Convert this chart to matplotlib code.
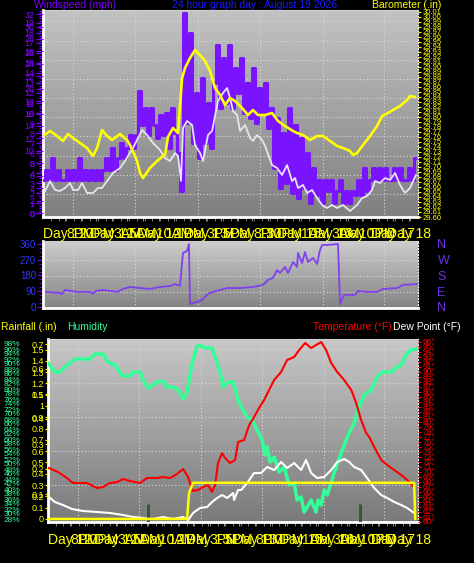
import numpy as np
import matplotlib.pyplot as plt

W, H = 474, 563

# ---- top panel: wind (mph) and barometer (in), time in hours ----
wind = [3.3, 4.3, 3.3, 5.5, 3.3, 4.3, 3.3, 3.3, 4.3, 3.3, 4.3, 3.3, 5.5, 3.3, 4.3, 3.3, 4.3, 3.3, 4.3, 3.3,
        4.3, 5.5, 4.3, 6.5, 4.3, 5.5, 7.0, 5.5, 6.5,
        7.8, 6.5, 7.8,
        12.2, 8.8, 10.5, 7.8, 10.5, 8.8, 7.5, 9.8, 7.8,
        10.0, 6.5, 10.5, 8.0, 6.0,
        2.2,
        20.0, 9.0, 18.0, 7.0,
        12.0, 5.5, 13.5, 7.0, 11.0, 6.5, 13.0,
        16.8, 10.5, 15.5, 11.0, 16.8, 10.5, 14.5, 12.0,
        15.5, 10.0, 13.0, 9.5, 14.5, 9.0, 12.5, 10.0, 13.0, 8.5,
        10.5, 4.5, 9.5, 2.5, 8.0, 3.0, 10.5, 2.0,
        8.8, 1.5, 7.5, 2.5, 6.0, 1.0,
        4.5, 1.8, 3.3, 1.0, 3.3, 2.2, 3.3, 1.0, 2.2, 3.3, 1.0, 2.2, 1.0,
        2.2, 1.8, 3.3, 1.8, 4.5, 2.2, 3.3, 4.5,
        3.3, 4.5, 3.3, 4.5, 3.3, 3.3, 4.5, 3.3, 4.5, 3.3, 3.3, 4.5, 3.3, 5.5]
wind_t = np.arange(len(wind)) * 0.192

avg_t = [0.13, 0.45, 0.77, 1.09, 1.41, 1.73, 1.92, 2.24, 2.50, 2.82, 3.20, 3.52, 3.78, 4.10, 4.48, 4.93,
         5.25, 5.44, 5.76, 6.08, 6.34, 6.66, 7.04, 7.49, 7.81, 8.13, 8.45, 8.64, 8.83, 8.96, 9.22, 9.54,
         9.73, 10.05, 10.24, 10.56, 10.82, 11.20, 11.52, 11.78, 11.97, 12.16, 12.42, 12.61, 12.93, 13.25,
         13.44, 13.70, 14.02, 14.21, 14.66, 14.98, 15.30, 15.62, 15.94, 16.13, 16.32, 16.64, 16.90, 17.22,
         17.54, 17.86, 18.18, 18.50, 18.82, 19.20, 19.65, 20.10, 20.42, 20.74, 21.06, 21.25, 21.57, 21.89,
         22.21, 22.53, 22.85, 23.17, 23.49, 23.87]
avg = [2.2, 3.2, 2.3, 2.2, 2.5, 3.0, 2.3, 2.3, 3.0, 2.0, 2.0, 2.5, 2.5, 3.2, 4.0, 4.5, 5.2, 5.7, 6.5, 7.5,
       8.3, 7.8, 7.0, 6.3, 5.5, 5.2, 6.0, 5.7, 3.2, 8.5, 9.2, 8.8, 6.8, 6.0, 5.2, 7.8, 8.2, 11.2, 12.0, 12.5,
       11.5, 10.2, 9.8, 8.2, 8.8, 7.5, 7.2, 7.8, 7.3, 6.7, 4.8, 4.5, 3.8, 4.8, 3.2, 3.5, 2.5, 2.8, 2.0, 2.3,
       1.5, 0.8, 0.5, 0.8, 0.5, 0.8, 0.2, 0.8, 1.5, 1.7, 2.3, 3.2, 3.0, 3.5, 3.3, 4.0, 2.8, 2.0, 2.5, 3.8]

baro_t = [0.00, 0.45, 0.90, 1.28, 1.60, 1.92, 2.37, 2.82, 3.20, 3.46, 3.78, 4.10, 4.42, 4.93, 5.38, 5.57,
          6.02, 6.21, 6.40, 6.85, 7.30, 7.68, 7.81, 8.00, 8.32, 8.64, 8.90, 9.09, 9.41, 9.73, 10.05, 10.37,
          10.69, 11.01, 11.33, 11.65, 11.97, 12.29, 12.74, 13.12, 13.44, 13.76, 14.21, 14.66, 15.04, 15.49,
          16.00, 16.26, 16.64, 17.09, 17.54, 17.92, 18.37, 18.82, 19.20, 19.65, 19.84, 20.10, 20.48, 20.93,
          21.38, 21.70, 22.08, 22.40, 22.85, 23.30, 23.49, 23.81]
baro = [29.762, 29.772, 29.762, 29.752, 29.766, 29.758, 29.748, 29.738, 29.722, 29.738, 29.774, 29.762,
        29.754, 29.766, 29.754, 29.744, 29.712, 29.688, 29.678, 29.698, 29.712, 29.722, 29.724, 29.760,
        29.778, 29.768, 29.878, 29.898, 29.918, 29.934, 29.924, 29.912, 29.892, 29.858, 29.844, 29.824,
        29.838, 29.832, 29.818, 29.804, 29.814, 29.804, 29.804, 29.808, 29.792, 29.782, 29.772, 29.768,
        29.764, 29.754, 29.762, 29.762, 29.752, 29.742, 29.738, 29.732, 29.724, 29.728, 29.744, 29.762,
        29.782, 29.802, 29.808, 29.814, 29.822, 29.834, 29.842, 29.840]

# ---- middle panel: wind direction (deg) ----
dir_t = [0.19, 1.09, 1.22, 1.41, 2.18, 3.01, 3.20, 3.39, 3.84, 4.74, 5.12, 5.57, 6.21, 6.85, 7.49, 8.13,
         8.45, 8.77, 8.96, 9.22, 9.34, 9.41, 9.86, 10.18, 10.56, 10.88, 11.78, 12.61, 13.44, 14.08, 14.40,
         14.72, 14.98, 15.17, 15.49, 15.68, 16.00, 16.26, 16.32, 16.58, 16.77, 16.96, 17.28, 17.54, 17.73,
         17.86, 18.18, 18.88, 19.01, 19.26, 19.97, 20.16, 20.74, 21.38, 21.76, 22.66, 23.04, 23.94]
wdir = [86, 80, 74, 97, 86, 86, 76, 92, 97, 86, 103, 114, 108, 103, 114, 120, 131, 120, 309, 320,
        360, 17, 29, 40, 74, 86, 108, 108, 114, 126, 154, 166, 211, 194, 229, 194, 257, 229, 309, 251,
        314, 257, 280, 246, 326, 354, 354, 360, 17, 69, 69, 91, 86, 86, 103, 108, 126, 131]

# ---- bottom panel: humidity (%), temperature / dew point (F), rain (in) ----
hum_t = [0.00, 0.45, 0.78, 1.10, 1.43, 1.75, 2.73, 3.05, 3.57, 3.89, 4.35, 4.67, 4.87, 5.32, 5.52, 5.97,
         6.17, 6.49, 6.81, 7.07, 7.46, 7.72, 8.11, 8.44, 8.76, 9.02, 9.35, 9.67, 9.99, 10.19, 10.64, 10.84,
         11.16, 11.36, 11.62, 12.01, 12.33, 12.53, 12.92, 13.24, 13.56, 13.89, 14.08, 14.21, 14.41, 14.67,
         14.99, 15.32, 15.64, 15.97, 16.16, 16.42, 16.61, 16.81, 17.07, 17.39, 17.52, 17.72, 17.91, 18.11,
         18.56, 19.02, 19.41, 19.86, 20.18, 20.51, 20.96, 21.35, 21.68, 22.26, 22.65, 22.91, 23.30, 23.56,
         23.88]
hum = [90.4, 86.8, 86.8, 88.8, 90.4, 92.0, 92.0, 94.0, 94.0, 90.8, 89.6, 86.8, 85.2, 85.2, 86.8, 86.8,
       83.6, 80.4, 81.6, 82.8, 83.2, 80.8, 80.8, 79.6, 76.0, 78.8, 90.4, 97.2, 97.2, 96.4, 96.4, 92.8,
       86.8, 80.8, 82.8, 82.8, 75.6, 72.8, 68.8, 67.6, 63.6, 59.6, 53.6, 56.8, 50.8, 52.8,
       46.8, 48.8, 41.6, 42.4, 35.6, 36.8, 30.8, 32.8, 35.6, 30.8, 35.6, 33.6, 39.6, 37.6,
       46.4, 54.4, 60.8, 66.4, 72.8, 77.6, 79.6, 84.8, 86.8, 86.8, 88.8, 89.6, 94.4, 95.6, 96.0]

temp_t = [0.06, 0.65, 1.23, 1.62, 2.53, 3.18, 3.57, 4.02, 4.48, 4.87, 5.32, 5.97, 6.43, 7.07, 7.46, 7.92,
          8.37, 8.76, 9.09, 9.35, 9.74, 10.06, 10.38, 10.64, 10.84, 11.03, 11.29, 11.49, 11.81, 12.14,
          12.33, 12.72, 13.05, 13.37, 13.69, 14.02, 14.34, 14.67, 15.12, 15.51, 15.97, 16.29, 16.68, 17.07,
          17.39, 17.72, 18.04, 18.37, 18.76, 19.21, 19.67, 19.99, 20.31, 20.64, 20.84, 21.16, 21.61, 22.00,
          22.46, 22.91, 23.30, 23.75]
temp = [70.8, 70.0, 68.8, 67.8, 67.8, 66.8, 67.0, 67.8, 68.0, 68.6, 68.2, 67.8, 68.8, 68.8, 69.0, 68.8,
        69.6, 70.6, 69.0, 66.2, 66.4, 67.0, 67.4, 66.0, 67.4, 71.8, 73.8, 72.8, 71.8, 72.4, 76.0, 76.4,
        79.4, 81.0, 82.8, 84.4, 86.4, 88.4, 90.0, 92.4, 93.0, 94.4, 95.8, 94.8, 95.4, 96.0, 94.4, 91.8,
        90.0, 88.4, 86.4, 83.8, 80.4, 77.8, 77.0, 75.0, 72.4, 71.4, 70.4, 69.4, 68.4, 67.0]

dew_t = [0.06, 0.45, 0.97, 1.56, 2.27, 3.18, 4.02, 4.87, 5.52, 6.17, 6.81, 7.46, 8.11, 8.76, 9.09, 9.41,
         9.86, 10.32, 10.64, 10.97, 11.29, 11.62, 12.01, 12.07, 12.33, 12.53, 12.92, 13.37, 13.82, 14.21,
         14.67, 15.12, 15.51, 15.97, 16.42, 16.74, 17.07, 17.46, 17.91, 18.37, 18.76, 19.21, 19.54, 19.86,
         20.31, 20.70, 21.16, 21.61, 22.00, 22.46, 22.91, 23.30, 23.75]
dew = [65.0, 64.0, 63.4, 62.6, 62.2, 62.0, 61.8, 61.4, 61.0, 60.8, 60.6, 61.0, 60.6, 61.0, 60.4, 61.8,
       62.8, 63.0, 64.0, 64.8, 65.4, 64.8, 65.8, 64.4, 66.4, 66.4, 67.8, 69.8, 69.8, 71.0, 70.4, 72.0,
       70.8, 71.8, 70.4, 72.4, 69.8, 68.8, 69.0, 70.4, 72.0, 72.6, 72.0, 71.0, 70.4, 68.8, 66.8, 65.4,
       64.8, 64.0, 63.4, 62.8, 61.8]

rain_t = [0.0, 9.02, 9.15, 9.41, 23.75, 23.82]
rain = [0.0, 0.0, 0.23, 0.32, 0.32, 0.0]
rate_t = [6.49, 20.25]
rate = [0.06, 0.06]

# the station packs far more labels than fit, so they pile onto each other
time_labels = ["Day 12", "8PM", "10PM", "Day 12", "3AM", "5AM", "Day 12", "10AM", "1PM", "Day 13",
               "3PM", "5PM", "Day 13", "8PM", "10PM", "Day 15", "1AM", "Day 16", "3AM", "Day 17",
               "10PM", "Day 17", "Day 18"]
label_pos = np.arange(len(time_labels)) + 1.4

plt.rcParams['font.family'] = ['Liberation Sans', 'DejaVu Sans']

fig = plt.figure(figsize=(W / 100, H / 100), dpi=100, facecolor='black')


def box(l, t, r, b):
    return [l / W, 1 - b / H, (r - l) / W, (b - t) / H]


def backdrop(ax, ylim, light, dark, top, bot, hy):
    ax.set_xlim(0, 24)
    ax.set_ylim(*ylim)
    g = np.linspace(light, dark, 64).reshape(-1, 1)
    ax.imshow(g, cmap='gray', vmin=0, vmax=1, aspect='auto', interpolation='bilinear',
              extent=(0, 24, ylim[0], ylim[1]), zorder=0)
    for y in hy:
        f = (bot - y) / (bot - top)
        ax.plot([0, 1], [f, f], transform=ax.transAxes, color='#d8d8d8', lw=0.8, ls=(0, (1, 2)), zorder=1)
    for x in [1.92, 5.9, 9.9, 13.9, 17.9, 21.8]:
        ax.axvline(x, color='#d8d8d8', lw=0.8, ls=(0, (1, 2)), zorder=1)
    ax.spines['left'].set_color('white')
    ax.spines['left'].set_linewidth(2)
    ax.spines['bottom'].set_color('white')
    ax.spines['bottom'].set_linewidth(2)
    ax.spines['top'].set_color('#d0d0d0')
    ax.spines['right'].set_color('white')
    ax.spines['right'].set_linestyle(':')


def bare(ax):
    for s in ax.spines.values():
        s.set_visible(False)


def xlabels(ax, pad):
    ax.set_xticks(label_pos)
    ax.set_xticklabels(time_labels, color='#ffff00', fontsize=10)
    ax.set_xticks(np.arange(0.5, 24, 0.5), minor=True)
    ax.tick_params(axis='x', which='both', color='#8a8a8a', length=3, pad=pad)


# ---------- top panel ----------
ax1 = fig.add_axes(box(43, 10, 418, 217))
backdrop(ax1, (-0.4, 20.3), 0.76, 0.50, 10, 217, [21, 41, 60, 79, 98, 117, 136, 156, 175, 194])
ax1.plot(wind_t, wind, color='#7a14ff', lw=2.2, drawstyle='steps-mid', zorder=3)
ax1.plot(avg_t, avg, color='#e6e4f0', lw=1.3, zorder=4)
ax1.set_yticks(range(0, 20))
ax1.set_yticklabels([str(v) for v in range(0, 20)])
ax1.set_yticks(np.arange(0, 20.3, 0.25), minor=True)
ax1.tick_params(axis='y', which='both', colors='#7f00ff', labelsize=6.5, length=5, width=1, pad=1)
ax1.tick_params(axis='y', which='minor', length=3)
xlabels(ax1, 4)

# gusts in km/h share the same left edge
ax1k = ax1.twinx()
ax1k.yaxis.tick_left()
ax1k.set_ylim(-0.4 * 1.609, 20.3 * 1.609)
ax1k.set_yticks(range(0, 33, 2))
ax1k.tick_params(axis='y', colors='#7f00ff', labelsize=6.5, length=5, pad=1)
bare(ax1k)

ax1b = ax1.twinx()
ax1b.set_ylim(29.600, 30.014)
ax1b.plot(baro_t, baro, color='#ffff00', lw=1.9, zorder=5)
bt = np.arange(29.60, 30.015, 0.01)
ax1b.set_yticks(bt)
ax1b.set_yticklabels(['%.2f' % v for v in bt])
ax1b.tick_params(axis='y', colors='#ffff00', labelsize=5.5, length=2, pad=1)
bare(ax1b)

# ---------- middle panel ----------
ax2 = fig.add_axes(box(43, 241, 418, 308))
backdrop(ax2, (-6, 377), 0.80, 0.52, 241, 308, [260, 276, 292])
ax2.plot(dir_t, wdir, color='#8040f0', lw=1.3, zorder=3)
ax2.set_yticks([0, 90, 180, 270, 360])
ax2.set_yticks(np.arange(0, 361, 22.5), minor=True)
ax2.tick_params(axis='y', which='both', colors='#7f00ff', labelcolor='#3333ff', labelsize=7, length=4, pad=1)
ax2.tick_params(axis='y', which='minor', length=3)
ax2.tick_params(axis='x', which='both', length=0, labelbottom=False)
ax2r = ax2.twinx()
ax2r.set_ylim(-6, 377)
ax2r.set_yticks([0, 90, 180, 270, 360])
ax2r.set_yticklabels(['N', 'E', 'S', 'W', 'N'])
ax2r.tick_params(axis='y', colors='#7030e0', labelsize=9, length=0, pad=14)
bare(ax2r)

# ---------- bottom panel ----------
ax3 = fig.add_axes(box(48, 339, 418, 522))
backdrop(ax3, (26.8, 100), 0.78, 0.48, 339, 522, [349, 383, 417, 451, 485])
ax3.plot(hum_t, hum, color='#33ff99', lw=2.5, zorder=3)
ht = np.arange(28, 99, 2)
ax3.set_yticks(ht)
ax3.set_yticklabels(['%d%%' % v for v in ht])
ax3.tick_params(axis='y', colors='#33ff99', labelsize=6, length=0, pad=20)
xlabels(ax3, 5)

axT = ax3.twinx()
axT.set_ylim(60, 96.6)
axT.plot(temp_t, temp, color='#ff0000', lw=1.5, zorder=3)
axT.plot(dew_t, dew, color='white', lw=1.5, zorder=4)
tt = np.arange(60, 97, 1)
axT.set_yticks(tt)
axT.set_yticklabels(['%d°' % v for v in tt])
axT.tick_params(axis='y', colors='#ff0000', labelsize=6, length=2, pad=1)
bare(axT)

axRR = ax3.twinx()
axRR.yaxis.tick_left()
axRR.set_ylim(-0.012, 0.72)
axRR.vlines(rate_t, -0.012, rate, color='#2e5a34', lw=2, zorder=2)
rr = np.arange(0.1, 0.71, 0.1)
axRR.set_yticks(rr)
axRR.set_yticklabels(['%.1f' % v for v in rr])
axRR.tick_params(axis='y', colors='#ffff00', labelsize=6.5, length=2, pad=1)
bare(axRR)

axR = ax3.twinx()
axR.yaxis.tick_left()
axR.set_ylim(-0.027, 1.593)
axR.plot(rain_t, rain, color='#ffff00', lw=1.8, zorder=5)
rt = np.arange(0, 1.51, 0.1)
axR.set_yticks(rt)
axR.set_yticklabels(['%g' % round(v, 1) for v in rt])
axR.tick_params(axis='y', colors='#ffff00', labelsize=6.5, length=2, pad=1)
bare(axR)


# ---------- titles ----------
def label(x, y, s, c):
    fig.text(x / W, 1 - y / H, s, color=c, fontsize=7.5, va='center', ha='left')


label(34, 5, 'Windspeed (mph)', '#7f00ff')
label(172, 5, '24 hour graph day : August 19 2026', '#1a1aff')
label(372, 5, 'Barometer (.in)', '#ffff00')
label(1, 327, 'Rainfall (.in)', '#ffff00')
label(67, 327, 'Humidity', '#33ff99')
label(313, 327, 'Temperature (°F)', '#ff0000')
label(393, 327, 'Dew Point (°F)', 'white')

fig.savefig('out.png', dpi=100, facecolor='black')
